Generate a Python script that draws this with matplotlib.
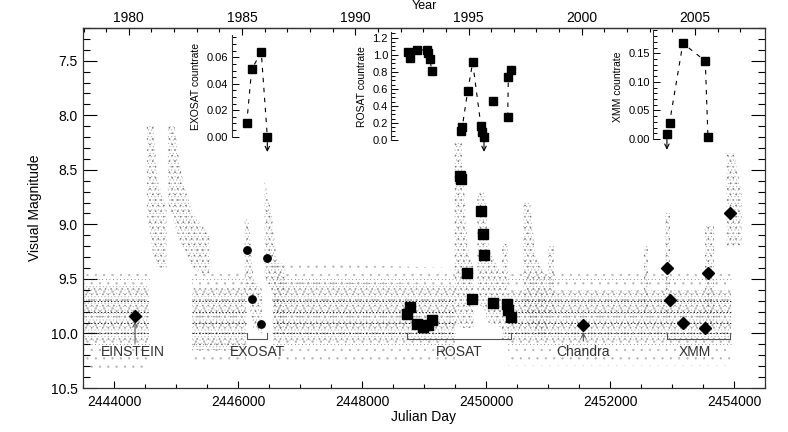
import numpy as np
import matplotlib
matplotlib.use("Agg")
import matplotlib.pyplot as plt
from matplotlib.ticker import MultipleLocator, FixedLocator, FormatStrFormatter

plt.rcParams['font.family'] = ['Liberation Sans', 'DejaVu Sans']
plt.rcParams['hatch.linewidth'] = 0.4

nan = np.nan

# ---------------- data ----------------
# visual light curve, dense quiescent band: JD, bright edge, faint edge
quiet_jd = [2443520, 2444560, nan, 2445250, 2446130, nan, 2446560, 2449500, nan, 2450350, 2453950]
quiet_bright = [9.55, 9.55, nan, 9.57, 9.57, nan, 9.52, 9.55, nan, 9.60, 9.60]
quiet_faint = [10.08, 10.08, nan, 10.15, 10.15, nan, 10.07, 10.08, nan, 10.08, 10.08]
# sparse outliers around the quiescent band
halo_bright = [9.40, 9.40, nan, 9.45, 9.45, nan, 9.35, 9.40, nan, 9.45, 9.45]
halo_faint = [10.32, 10.32, nan, 10.25, 10.25, nan, 10.25, 10.25, nan, 10.30, 10.30]
# outbursts: JD, bright edge, faint edge
burst_jd = [2444530, 2444640, 2444700, 2444845, nan,
            2444870, 2444980, 2445060, 2445160, 2445270, 2445400, 2445545, nan,
            2446110, 2446170, 2446250, 2446390, nan,
            2446430, 2446540, 2446620, 2446760, nan,
            2449490, 2449610, 2449700, 2449800, nan,
            2449860, 2449980, 2450040, 2450250, nan,
            2450255, 2450360, nan,
            2450600, 2450710, 2450800, 2450980, nan,
            2451000, 2451090, nan,
            2452550, 2452620, nan,
            2452880, 2452970, nan,
            2453530, 2453670, nan,
            2453880, 2454000, 2454120]
burst_bright = [8.10, 8.10, 8.60, 8.85, nan,
                8.10, 8.10, 8.45, 8.70, 8.90, 9.00, 9.10, nan,
                8.95, 8.95, 9.50, 9.60, nan,
                8.60, 8.90, 9.30, 9.40, nan,
                8.25, 8.25, 9.20, 9.40, nan,
                8.70, 8.70, 9.20, 9.45, nan,
                9.18, 9.18, nan,
                8.80, 8.80, 9.30, 9.50, nan,
                9.20, 9.20, nan,
                9.20, 9.20, nan,
                8.90, 8.90, nan,
                9.00, 9.00, nan,
                8.35, 8.35, 8.70]
burst_faint = [8.90, 9.30, 9.40, 9.40, nan,
               8.80, 9.00, 9.15, 9.25, 9.40, 9.45, 9.45, nan,
               9.60, 9.70, 9.95, 10.00, nan,
               9.50, 9.60, 10.00, 10.00, nan,
               9.90, 9.95, 9.95, 9.95, nan,
               9.70, 9.80, 9.90, 9.95, nan,
               10.05, 10.05, nan,
               9.80, 9.90, 10.00, 10.05, nan,
               9.80, 9.80, nan,
               9.80, 9.80, nan,
               9.85, 9.85, nan,
               9.90, 9.90, nan,
               9.20, 9.20, 9.20]
# quantised estimates that line up in rows
row_mag_strong = [9.7, 9.8, 9.9, 10.0]
row_mag_weak = [9.5, 10.1]

# X-ray epochs: optical magnitude at the epoch
einstein_jd = [2444339]
einstein_mag = [9.84]
exosat_jd = [2446140, 2446221, 2446375, 2446473]
exosat_mag = [9.237, 9.68, 9.91, 9.307]
exosat_rate = [0.010, 0.051, 0.064, 0.0]
exosat_upper = [False, False, False, True]

rosat_opt_jd = [2448731, 2448782, 2448882, 2448989, 2449069, 2449124,
                2449573, 2449597, 2449698, 2449779, 2449919, 2449956, 2449973,
                2450118, 2450334, 2450360, 2450398]
rosat_opt_mag = [9.82, 9.757, 9.91, 9.94, 9.925, 9.88,
                 8.558, 8.585, 9.45, 9.68, 8.876, 9.09, 9.28,
                 9.717, 9.726, 9.787, 9.849]
rosat_jd = [2448747, 2448774, 2448882, 2449044, 2449069, 2449097, 2449124,
            2449592, 2449618, 2449705, 2449785, 2449919, 2449940, 2449968,
            2450118, 2450350, 2450360, 2450398]
rosat_rate = [1.036, 0.96, 1.056, 1.056, 1.02, 0.95, 0.81,
              0.106, 0.156, 0.575, 0.91, 0.164, 0.09, 0.04,
              0.457, 0.27, 0.735, 0.82]
rosat_group = [0, 0, 0, 0, 0, 0, 0, 1, 1, 1, 1, 1, 1, 1, 2, 3, 3, 3]
rosat_upper = [False] * 13 + [True] + [False] * 4

chandra_jd = [2451570]
chandra_mag = [9.92]

xmm_opt_jd = [2452918, 2452960, 2453176, 2453537, 2453580, 2453935]
xmm_opt_mag = [9.40, 9.695, 9.90, 9.95, 9.448, 8.90]
xmm_jd = [2452918, 2452960, 2453176, 2453537, 2453580]
xmm_rate = [0.008, 0.0285, 0.1675, 0.1365, 0.003]
xmm_upper = [True, False, False, False, False]

year_ticks = [1980, 1985, 1990, 1995, 2000, 2005]

# ---------------- figure ----------------
W, H = 788, 432
L, R, T, B = 83, 765, 28, 388
fig = plt.figure(figsize=(W / 100, H / 100), dpi=100)
ax = fig.add_axes([L / W, 1 - B / H, (R - L) / W, (B - T) / H])
ax.set_xlim(2443500, 2454500)
ax.set_ylim(10.5, 7.2)

# light curve cloud (speckled by two interleaved dot hatches)
ax.fill_between(quiet_jd, halo_bright, halo_faint, facecolor='none', edgecolor='#b4b4b4',
                hatch='..', linewidth=0, zorder=1)
ax.fill_between(quiet_jd, quiet_bright, quiet_faint, facecolor='none', edgecolor='#8c8c8c',
                hatch='...', linewidth=0, zorder=1)
ax.fill_between(quiet_jd, quiet_bright, quiet_faint, facecolor='none', edgecolor='#b8b8b8',
                hatch='.....', linewidth=0, zorder=1)
ax.fill_between(burst_jd, burst_bright, burst_faint, facecolor='none', edgecolor='#727272',
                hatch='...', linewidth=0, zorder=1)
ax.fill_between(burst_jd, burst_bright, burst_faint, facecolor='none', edgecolor='#b0b0b0',
                hatch='.....', linewidth=0, zorder=1)


def segments(xs):
    out, cur = [], []
    for v in xs:
        if np.isnan(v):
            if cur:
                out.append((cur[0], cur[-1]))
            cur = []
        else:
            cur.append(v)
    if cur:
        out.append((cur[0], cur[-1]))
    return out


for x0, x1 in segments(quiet_jd):
    ax.hlines(row_mag_strong, x0, x1, colors='#1e1e1e', linestyles=(0, (1.4, 2.0)), lw=0.7, zorder=2)
    ax.hlines(row_mag_weak, x0, x1, colors='#444444', linestyles=(0, (0.8, 3.5)), lw=0.6, zorder=2)

# X-ray epochs on the light curve
ax.plot(einstein_jd, einstein_mag, 'D', color='black', ms=6, zorder=5)
ax.plot(exosat_jd, exosat_mag, 'o', color='black', ms=5.3, zorder=5)
ax.plot(rosat_opt_jd, rosat_opt_mag, 's', color='black', ms=6.6, zorder=5)
ax.plot(chandra_jd, chandra_mag, 'D', color='black', ms=6, zorder=5)
ax.plot(xmm_opt_jd, xmm_opt_mag, 'D', color='black', ms=6, zorder=5)

gcol = '#555555'
for jd in einstein_jd:
    ax.annotate('', xy=(jd, 9.89), xytext=(jd, 10.09),
                arrowprops=dict(arrowstyle='->', color=gcol, lw=0.8, shrinkA=0, shrinkB=0, mutation_scale=8))
for jd in chandra_jd:
    ax.annotate('', xy=(jd, 9.99), xytext=(jd, 10.07),
                arrowprops=dict(arrowstyle='->', color=gcol, lw=0.8, shrinkA=0, shrinkB=0, mutation_scale=7))
for jds in (exosat_jd, rosat_opt_jd, xmm_opt_jd):
    a, b = min(jds), max(jds)
    ax.plot([a, a, b, b], [10.0, 10.047, 10.047, 10.0], color=gcol, lw=0.8, zorder=3)

lab_kw = dict(ha='center', va='baseline', fontsize=10, color='#333333', zorder=4)
ax.text(2444306, 10.21, 'EINSTEIN', **lab_kw)
ax.text(np.mean([min(exosat_jd), max(exosat_jd)]), 10.21, 'EXOSAT', **lab_kw)
ax.text(np.mean([min(rosat_opt_jd), max(rosat_opt_jd)]), 10.21, 'ROSAT', **lab_kw)
ax.text(chandra_jd[0], 10.21, 'Chandra', **lab_kw)
ax.text(2453360, 10.21, 'XMM', **lab_kw)

# axes styling
for s in ax.spines.values():
    s.set_color('#333333')
    s.set_linewidth(0.9)
ax.xaxis.set_major_locator(MultipleLocator(2000))
ax.xaxis.set_minor_locator(MultipleLocator(500))
ax.xaxis.set_major_formatter(FormatStrFormatter('%d'))
ax.yaxis.set_major_locator(MultipleLocator(0.5))
ax.yaxis.set_minor_locator(MultipleLocator(0.1))
ax.yaxis.set_major_formatter(FormatStrFormatter('%.1f'))
ax.tick_params(axis='x', which='major', direction='in', length=5.2, width=0.8, labelsize=10, pad=5, top=False)
ax.tick_params(axis='x', which='minor', direction='in', length=2.6, width=0.8, top=False)
ax.tick_params(axis='y', which='major', direction='in', length=9.8, width=0.8, labelsize=10, pad=4, right=True)
ax.tick_params(axis='y', which='minor', direction='in', length=4.9, width=0.8, right=True)


def jd2yr(j):
    return 1980 + (np.asarray(j) - 2444239.5) / 365.25


def yr2jd(y):
    return 2444239.5 + (np.asarray(y) - 1980) * 365.25


sec = ax.secondary_xaxis('top', functions=(jd2yr, yr2jd))
sec.xaxis.set_major_locator(FixedLocator(year_ticks))
sec.xaxis.set_minor_locator(FixedLocator(list(range(year_ticks[0] - 3, year_ticks[-1] + 3))))
sec.xaxis.set_major_formatter(FormatStrFormatter('%d'))
sec.tick_params(which='major', direction='in', length=5.2, width=0.8, labelsize=10, pad=2.2)
sec.tick_params(which='minor', direction='in', length=2.6, width=0.8)
sec.spines['top'].set_color('#333333')
sec.spines['top'].set_linewidth(0.9)

fig.text(424 / W, 1 - 421 / H, 'Julian Day', ha='center', va='baseline', fontsize=10)
fig.text(424 / W, 1 - 9 / H, 'Year', ha='center', va='baseline', fontsize=9)
fig.text(35 / W, 1 - 208 / H, 'Visual Magnitude', ha='center', va='center', rotation=90, fontsize=10)


# ---------------- insets (count rates, same time axis) ----------------
def make_inset(zero_px, top_val, px_per_unit, spine_jd, major, minor, fmt, label, label_x):
    h = top_val * px_per_unit
    a = fig.add_axes([L / W, 1 - zero_px / H, (R - L) / W, h / H])
    a.set_xlim(ax.get_xlim())
    a.set_ylim(0, top_val)
    a.patch.set_visible(False)
    for k in ('right', 'top', 'bottom'):
        a.spines[k].set_visible(False)
    a.spines['left'].set_position(('data', spine_jd))
    a.spines['left'].set_color('#333333')
    a.spines['left'].set_linewidth(0.8)
    a.xaxis.set_visible(False)
    a.yaxis.set_major_locator(MultipleLocator(major))
    a.yaxis.set_minor_locator(MultipleLocator(minor))
    a.yaxis.set_major_formatter(FormatStrFormatter(fmt))
    a.tick_params(axis='y', which='major', direction='in', length=5, width=0.7, labelsize=8, pad=2.5)
    a.tick_params(axis='y', which='minor', direction='in', length=2.8, width=0.7)
    fig.text(label_x / W, 1 - 86.7 / H, label, rotation=90, ha='center', va='center', fontsize=7.5)
    return a


def draw_rates(a, jds, rates, groups, upper):
    jds = np.asarray(jds)
    rates = np.asarray(rates)
    groups = np.asarray(groups)
    for g in np.unique(groups):
        m = groups == g
        if m.sum() > 1:
            a.plot(jds[m], rates[m], color='black', lw=0.8, ls=(0, (4, 5)), zorder=2, clip_on=False)
    a.plot(jds, rates, 's', color='black', ms=6.2, zorder=3, clip_on=False)
    for j, r, u in zip(jds, rates, upper):
        if u:
            a.annotate('', xy=(j, r), xytext=(0, -11), textcoords='offset points',
                       arrowprops=dict(arrowstyle='<-', color='black', lw=0.8,
                                       shrinkA=0, shrinkB=0, mutation_scale=8),
                       annotation_clip=False)


ex = make_inset(136.7, 0.077, 1323, 2445898, 0.02, 0.005, '%.2f', 'EXOSAT countrate', 196)
draw_rates(ex, exosat_jd, exosat_rate, [0] * len(exosat_jd), exosat_upper)

ro = make_inset(140, 1.27, 85.25, 2448475, 0.2, 0.05, '%.1f', 'ROSAT countrate', 362)
draw_rates(ro, rosat_jd, rosat_rate, rosat_group, rosat_upper)

xm = make_inset(139, 0.19, 571.3, 2452698, 0.05, 0.01, '%.2f', 'XMM countrate', 618)
draw_rates(xm, xmm_jd, xmm_rate, [0] * len(xmm_jd), xmm_upper)

fig.savefig('out.png', dpi=100)
